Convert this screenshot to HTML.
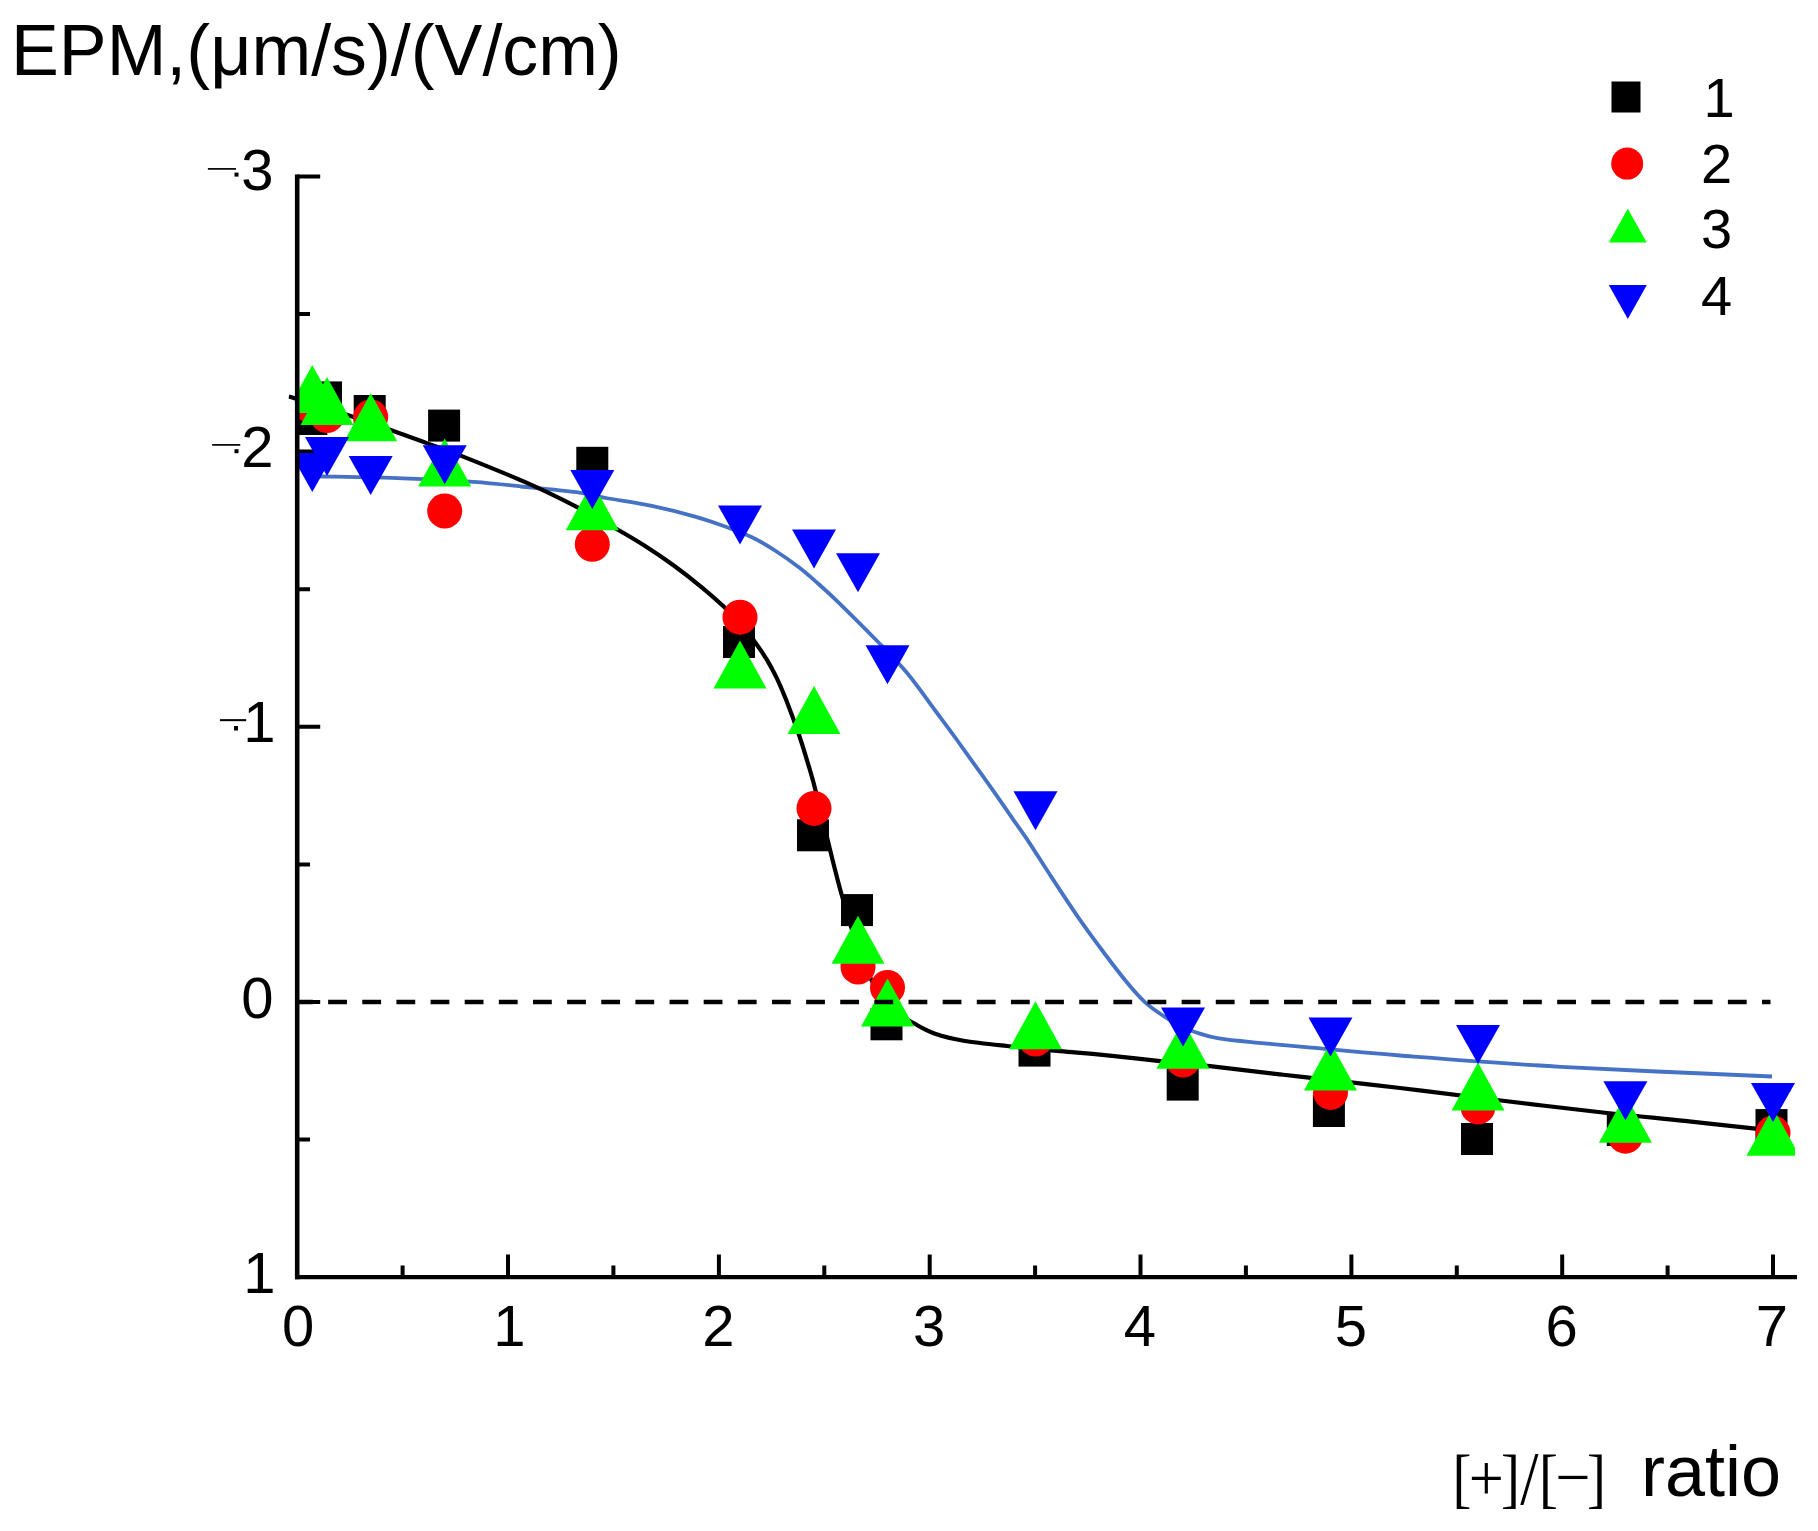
<!DOCTYPE html>
<html lang="en"><head><meta charset="utf-8"><title>EPM vs ratio</title>
<style>html,body{margin:0;padding:0;background:#fff}svg{display:block}text{font-family:"Liberation Sans",sans-serif;fill:#000}.ser{font-family:"Liberation Serif",serif}</style></head><body>
<svg width="1818" height="1531" viewBox="0 0 1818 1531">
<rect width="1818" height="1531" fill="#fff"/>
<defs><clipPath id="cc"><rect x="288.5" y="150" width="1506.5" height="1129"/></clipPath><clipPath id="cp"><rect x="296" y="150" width="1499" height="1129"/></clipPath><filter id="soft" x="0" y="0" width="1818" height="1531" filterUnits="userSpaceOnUse"><feGaussianBlur stdDeviation="0.55"/></filter></defs>
<g filter="url(#soft)">
<text x="11" y="74.6" font-size="71.7">EPM,(μm/s)/(V/cm)</text>
<path d="M297.2 1139.6h12.8M297.2 1002.0h23.0M297.2 864.4h12.8M297.2 726.8h23.0M297.2 589.2h12.8M297.2 451.6h23.0M297.2 314.0h12.8M297.2 176.4h23.0M402.6 1277.2v-11.8M508.0 1277.2v-22.8M613.4 1277.2v-11.8M718.9 1277.2v-22.8M824.3 1277.2v-11.8M929.7 1277.2v-22.8M1035.1 1277.2v-11.8M1140.5 1277.2v-22.8M1245.9 1277.2v-11.8M1351.4 1277.2v-22.8M1456.8 1277.2v-11.8M1562.2 1277.2v-22.8M1667.6 1277.2v-11.8M1773.0 1277.2v-22.8" stroke="#000" stroke-width="4" fill="none"/>
<g clip-path="url(#cc)" fill="none" stroke-linecap="butt" stroke-linejoin="round">
<path d="M312.0 476.4 C314.0 476.4 308.8 476.2 324.0 476.5 C339.2 476.8 378.3 477.4 403.2 478.3 C428.1 479.2 453.1 480.4 473.6 481.8 C494.1 483.2 508.8 485.2 526.4 487.0 C544.0 488.8 566.0 490.8 579.2 492.6 C592.5 494.4 593.8 495.8 605.9 498.0 C618.0 500.2 636.9 502.8 651.8 505.9 C666.6 509.0 683.0 513.2 695.0 516.6 C707.0 520.0 714.1 522.5 723.7 526.0 C733.3 529.5 743.9 533.4 752.4 537.5 C760.9 541.6 767.2 545.5 775.0 550.5 C782.8 555.5 792.0 562.0 799.2 567.5 C806.4 573.0 811.5 577.7 818.0 583.5 C824.5 589.3 828.5 592.6 838.4 602.3 C848.3 612.0 866.2 629.8 877.6 641.5 C889.0 653.2 897.1 661.0 906.9 672.8 C916.7 684.5 928.1 701.0 936.3 712.0 C944.5 723.0 949.4 729.5 955.9 738.5 C962.4 747.5 969.0 756.8 975.5 765.9 C982.0 775.0 988.9 784.5 995.1 793.3 C1001.3 802.1 1007.5 811.4 1012.7 818.8 C1017.9 826.2 1019.5 828.0 1026.1 837.9 C1032.7 847.8 1043.6 865.1 1052.3 878.4 C1061.0 891.7 1069.7 905.1 1078.4 917.6 C1087.1 930.1 1096.5 942.8 1104.5 953.5 C1112.5 964.2 1119.7 973.6 1126.4 981.7 C1133.1 989.8 1138.7 996.4 1144.9 1002.1 C1151.1 1007.8 1157.6 1012.0 1163.4 1016.0 C1169.2 1020.0 1174.5 1023.2 1180.0 1026.0 C1185.5 1028.8 1189.9 1030.4 1196.4 1032.5 C1202.9 1034.6 1208.5 1036.7 1218.8 1038.4 C1229.1 1040.1 1243.0 1041.3 1258.4 1042.8 C1273.8 1044.3 1287.6 1045.5 1311.2 1047.6 C1334.8 1049.7 1358.4 1052.3 1400.0 1055.5 C1441.6 1058.7 1499.0 1063.3 1561.0 1066.8 C1623.0 1070.3 1736.8 1074.9 1772.0 1076.5" stroke="#4472c4" stroke-width="3.8"/>
<path d="M288.8 396.4 C297.3 399.1 322.7 406.8 340.0 412.5 C357.3 418.2 378.1 425.5 392.7 430.7 C407.3 435.9 416.2 439.3 427.9 443.6 C439.6 447.9 446.7 450.1 463.1 456.6 C479.5 463.1 507.6 474.4 526.4 482.7 C545.2 491.0 560.3 498.5 575.7 506.4 C591.1 514.3 607.3 523.7 618.8 530.3 C630.3 536.9 635.6 540.0 644.7 545.8 C653.8 551.6 663.8 558.3 673.4 565.3 C683.0 572.3 693.7 580.7 702.1 587.6 C710.5 594.5 717.4 600.7 723.7 606.5 C730.0 612.3 734.7 616.5 740.0 622.5 C745.3 628.5 750.8 636.2 755.3 642.4 C759.8 648.6 763.2 653.6 766.8 659.6 C770.4 665.6 773.7 671.6 776.9 678.3 C780.1 685.0 782.5 690.5 786.2 700.0 C789.9 709.5 795.4 724.4 799.2 735.5 C803.0 746.6 806.2 757.6 809.0 766.9 C811.8 776.2 812.2 777.2 815.8 791.4 C819.4 805.6 826.3 834.8 830.6 852.0 C834.9 869.2 837.4 879.5 841.6 894.5 C845.8 909.5 851.1 927.9 856.0 942.0 C860.9 956.1 865.3 968.3 871.0 979.3 C876.7 990.3 882.7 1000.6 890.0 1008.0 C897.3 1015.4 907.4 1019.5 914.9 1023.8 C922.4 1028.1 926.9 1031.0 935.0 1033.8 C943.1 1036.6 951.7 1038.8 963.7 1040.8 C975.7 1042.8 990.8 1044.3 1006.8 1046.0 C1022.8 1047.7 1044.5 1049.8 1060.0 1051.2 C1075.5 1052.6 1083.7 1053.0 1100.0 1054.6 C1116.3 1056.2 1139.7 1059.0 1158.0 1060.9 C1176.3 1062.8 1186.3 1063.6 1210.0 1066.2 C1233.7 1068.8 1268.3 1073.1 1300.0 1076.7 C1331.7 1080.3 1366.5 1084.0 1400.0 1088.0 C1433.5 1092.0 1466.5 1096.3 1501.0 1100.5 C1535.5 1104.7 1576.4 1109.6 1607.0 1113.0 C1637.6 1116.4 1660.0 1118.3 1684.7 1120.9 C1709.4 1123.5 1740.7 1127.1 1755.4 1128.7 C1770.1 1130.3 1770.1 1130.2 1773.0 1130.5" stroke="#000" stroke-width="4.2"/>
</g>
<g clip-path="url(#cp)">
<g fill="#000">
<rect x="295.3" y="403.0" width="32" height="32"/>
<rect x="310.0" y="381.4" width="32" height="32"/>
<rect x="353.7" y="395.0" width="32" height="32"/>
<rect x="428.1" y="409.6" width="32" height="32"/>
<rect x="576.3" y="446.8" width="32" height="32"/>
<rect x="723.0" y="626.0" width="32" height="32"/>
<rect x="797.0" y="819.3" width="32" height="32"/>
<rect x="841.0" y="894.1" width="32" height="32"/>
<rect x="870.5" y="1008.3" width="32" height="32"/>
<rect x="1018.5" y="1034.6" width="32" height="32"/>
<rect x="1166.7" y="1068.6" width="32" height="32"/>
<rect x="1312.9" y="1095.0" width="32" height="32"/>
<rect x="1461.0" y="1123.0" width="32" height="32"/>
<rect x="1606.8" y="1114.0" width="32" height="32"/>
<rect x="1755.5" y="1109.1" width="32" height="32"/>
</g><g fill="#f00">
<circle cx="312.3" cy="407.0" r="17.5"/>
<circle cx="327.0" cy="415.5" r="17.5"/>
<circle cx="370.7" cy="417.0" r="17.5"/>
<circle cx="444.7" cy="511.0" r="17.5"/>
<circle cx="592.3" cy="544.3" r="17.5"/>
<circle cx="740.0" cy="617.2" r="17.5"/>
<circle cx="814.0" cy="808.4" r="17.5"/>
<circle cx="858.0" cy="967.0" r="17.5"/>
<circle cx="887.5" cy="987.5" r="17.5"/>
<circle cx="1035.5" cy="1039.0" r="17.5"/>
<circle cx="1183.0" cy="1060.0" r="17.5"/>
<circle cx="1330.5" cy="1092.4" r="17.5"/>
<circle cx="1478.0" cy="1107.0" r="17.5"/>
<circle cx="1625.4" cy="1136.2" r="17.5"/>
<circle cx="1773.0" cy="1133.0" r="17.5"/>
</g><g fill="#0f0">
<path d="M285.8 413.0L338.8 413.0L312.3 365.0Z"/>
<path d="M300.5 425.0L353.5 425.0L327.0 377.0Z"/>
<path d="M344.2 441.3L397.2 441.3L370.7 393.3Z"/>
<path d="M418.2 486.4L471.2 486.4L444.7 438.4Z"/>
<path d="M565.8 530.2L618.8 530.2L592.3 482.2Z"/>
<path d="M713.5 688.6L766.5 688.6L740.0 640.6Z"/>
<path d="M787.5 734.0L840.5 734.0L814.0 686.0Z"/>
<path d="M831.5 963.8L884.5 963.8L858.0 915.8Z"/>
<path d="M861.0 1026.4L914.0 1026.4L887.5 978.4Z"/>
<path d="M1009.0 1049.2L1062.0 1049.2L1035.5 1001.2Z"/>
<path d="M1156.5 1068.8L1209.5 1068.8L1183.0 1020.8Z"/>
<path d="M1304.0 1090.6L1357.0 1090.6L1330.5 1042.6Z"/>
<path d="M1451.5 1110.5L1504.5 1110.5L1478.0 1062.5Z"/>
<path d="M1598.9 1142.7L1651.9 1142.7L1625.4 1094.7Z"/>
<path d="M1746.5 1155.8L1799.5 1155.8L1773.0 1107.8Z"/>
</g><g fill="#00f">
<path d="M290.3 452.9L334.3 452.9L312.3 491.9Z"/>
<path d="M305.0 437.0L349.0 437.0L327.0 476.0Z"/>
<path d="M348.7 456.0L392.7 456.0L370.7 495.0Z"/>
<path d="M422.7 445.2L466.7 445.2L444.7 484.2Z"/>
<path d="M570.3 470.0L614.3 470.0L592.3 509.0Z"/>
<path d="M718.0 505.5L762.0 505.5L740.0 544.5Z"/>
<path d="M792.0 529.4L836.0 529.4L814.0 568.4Z"/>
<path d="M836.0 553.3L880.0 553.3L858.0 592.3Z"/>
<path d="M865.5 645.2L909.5 645.2L887.5 684.2Z"/>
<path d="M1013.5 791.2L1057.5 791.2L1035.5 830.2Z"/>
<path d="M1161.0 1007.6L1205.0 1007.6L1183.0 1046.6Z"/>
<path d="M1308.5 1017.5L1352.5 1017.5L1330.5 1056.5Z"/>
<path d="M1456.0 1025.0L1500.0 1025.0L1478.0 1064.0Z"/>
<path d="M1603.4 1081.3L1647.4 1081.3L1625.4 1120.3Z"/>
<path d="M1751.0 1083.0L1795.0 1083.0L1773.0 1122.0Z"/>
</g></g>
<path d="M297.2 1002.1H1770.5" stroke="#000" stroke-width="4.5" stroke-dasharray="18.8 15.34" stroke-dashoffset="3.2" fill="none"/>
<g stroke="#000" fill="none">
<path d="M297.2 174.5V1279.3" stroke-width="4.6"/>
<path d="M295 1277.2H1797" stroke-width="4.2"/>
</g>
<text x="273.5" y="190.1" font-size="58" text-anchor="end">3</text>
<text transform="translate(222.0 176.6) scale(1 0.42)" font-size="58" text-anchor="middle">−</text>
<rect x="234.5" y="172.6" width="4" height="4"/>
<text x="273.5" y="466.7" font-size="58" text-anchor="end">2</text>
<text transform="translate(226.3 453.2) scale(1 0.42)" font-size="58" text-anchor="middle">−</text>
<rect x="234.5" y="449.2" width="4" height="4"/>
<text x="275.5" y="741.5" font-size="58" text-anchor="end">1</text>
<text transform="translate(233.5 729.5) scale(0.93 0.5)" font-size="58" text-anchor="middle">−</text>
<rect x="234" y="726.0" width="4" height="4.5"/>
<text x="273.5" y="1017.5" font-size="58" text-anchor="end">0</text>
<text x="275.5" y="1292.5" font-size="58" text-anchor="end">1</text>
<text x="298.2" y="1345.6" font-size="58" text-anchor="middle">0</text>
<text x="509.5" y="1345.6" font-size="58" text-anchor="middle">1</text>
<text x="718.4" y="1345.6" font-size="58" text-anchor="middle">2</text>
<text x="929.2" y="1345.6" font-size="58" text-anchor="middle">3</text>
<text x="1140.0" y="1345.6" font-size="58" text-anchor="middle">4</text>
<text x="1350.9" y="1345.6" font-size="58" text-anchor="middle">5</text>
<text x="1561.7" y="1345.6" font-size="58" text-anchor="middle">6</text>
<text x="1772.0" y="1345.6" font-size="58" text-anchor="middle">7</text>
<rect x="1611.5" y="81.5" width="29" height="31" fill="#000"/>
<circle cx="1627.2" cy="163.6" r="16" fill="#f00"/>
<path d="M1608.8 242.6H1646.8L1627.8 208.7Z" fill="#0f0"/>
<path d="M1608.8 285H1646.8L1627.8 319Z" fill="#00f"/>
<text x="1719.0" y="116.6" font-size="56" text-anchor="middle">1</text>
<text x="1716.5" y="182.8" font-size="56" text-anchor="middle">2</text>
<text x="1716.5" y="248.4" font-size="56" text-anchor="middle">3</text>
<text x="1716.5" y="314.5" font-size="56" text-anchor="middle">4</text>
<text class="ser" transform="translate(1452.5 1500.2) scale(0.848 0.985)" font-size="67">[</text>
<text class="ser" transform="translate(1468.7 1499.6) scale(0.930 0.970)" font-size="67">+</text>
<text class="ser" transform="translate(1500.9 1500.2) scale(0.848 0.985)" font-size="67">]</text>
<text class="ser" transform="translate(1520.3 1503.6) scale(0.980 1.140)" font-size="67">/</text>
<text class="ser" transform="translate(1538.9 1500.2) scale(0.848 0.985)" font-size="67">[</text>
<text class="ser" transform="translate(1555.5 1499.4) scale(0.930 0.970)" font-size="67">−</text>
<text class="ser" transform="translate(1587.1 1500.2) scale(0.848 0.985)" font-size="67">]</text>
<text x="1641" y="1496" font-size="72">ratio</text>
</g></svg></body></html>
